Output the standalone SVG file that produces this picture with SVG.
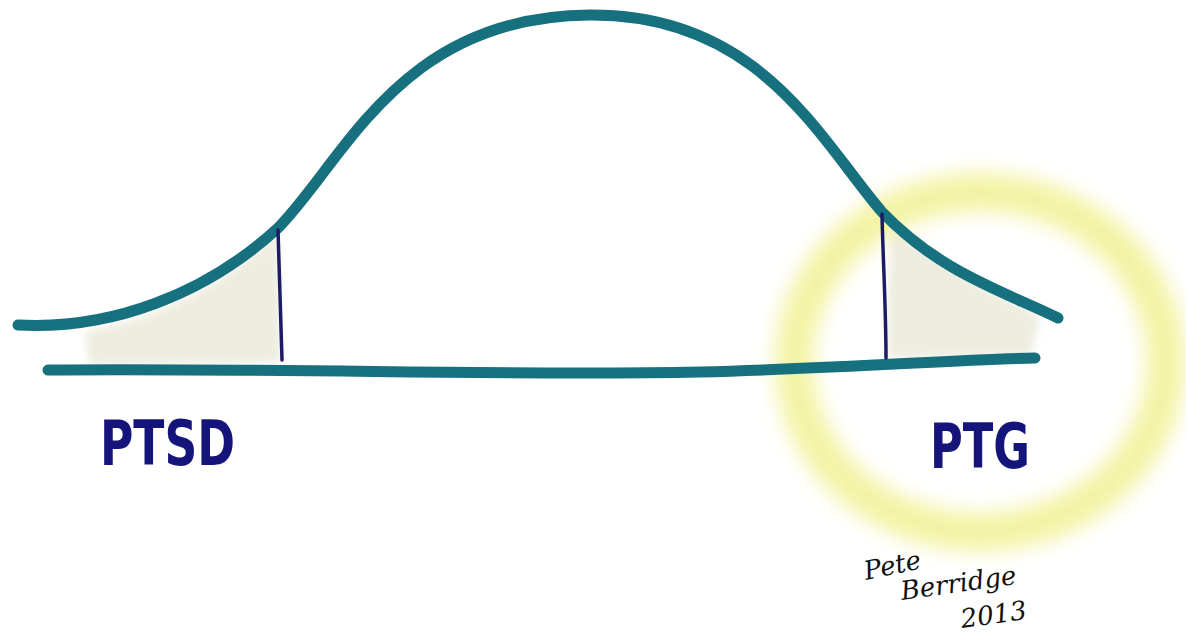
<svg xmlns="http://www.w3.org/2000/svg" width="1186" height="641" viewBox="0 0 1186 641">
<defs>
<filter id="glow" x="-30%" y="-30%" width="160%" height="160%"><feGaussianBlur stdDeviation="10"/></filter>
<filter id="soft" x="-10%" y="-10%" width="120%" height="120%"><feGaussianBlur stdDeviation="5"/></filter>
<style>
.curve{fill:none;stroke:#16707e;stroke-width:11;stroke-linecap:round}
.tick{fill:none;stroke:#1b1b66;stroke-width:3.5;stroke-linecap:round}
.shade{fill:#e4e4d2;opacity:0.7}
.label{font-family:"DejaVu Sans Condensed","DejaVu Sans",sans-serif;font-weight:bold;fill:#14147a;font-size:62px}
.sig{font-family:"DejaVu Serif",serif;font-style:italic;fill:#111;font-size:26px}
</style>
</defs>
<rect width="1186" height="641" fill="#fff"/>
<g id="shading">
<path class="shade" filter="url(#soft)" d="M85,332 C150,320 220,290 278,232 L281,362 L90,365 Z"/>
<path class="shade" filter="url(#soft)" d="M890,222 C950,275 1000,295 1040,315 L1030,355 L888,358 Z"/>
</g>
<g id="glow-ring">
<ellipse cx="980" cy="362" rx="186" ry="170" fill="none" stroke="#f2f29a" stroke-width="38" filter="url(#glow)" opacity="0.9"/>
</g>
<g id="connectors">
<path id="bell" class="curve" d="M18,325 C110,330 205,295 278,228 C345,160 400,16 590,15 C760,14 820,140 882,212 C940,272 1000,290 1058,318"/>
<path id="axis" class="curve" d="M48,370 C300,368 500,376 700,372 C850,368 950,360 1035,358"/>
<path id="cut-left" class="tick" d="M278,230 C279,270 281,320 282,360"/>
<path id="cut-right" class="tick" d="M882,214 C883,260 886,310 886,358"/>
</g>
<g id="ptsd"><text class="label" x="100" y="465" textLength="135" lengthAdjust="spacingAndGlyphs">PTSD</text></g>
<g id="ptg"><text class="label" x="930" y="468" textLength="100" lengthAdjust="spacingAndGlyphs">PTG</text></g>
<g id="signature">
<text class="sig" x="866" y="580" transform="rotate(-12 866 580)">Pete</text>
<text class="sig" x="902" y="600" transform="rotate(-8 902 600)">Berridge</text>
<text class="sig" x="962" y="628" font-size="20" transform="rotate(-8 962 628)">2013</text>
</g>
</svg>
